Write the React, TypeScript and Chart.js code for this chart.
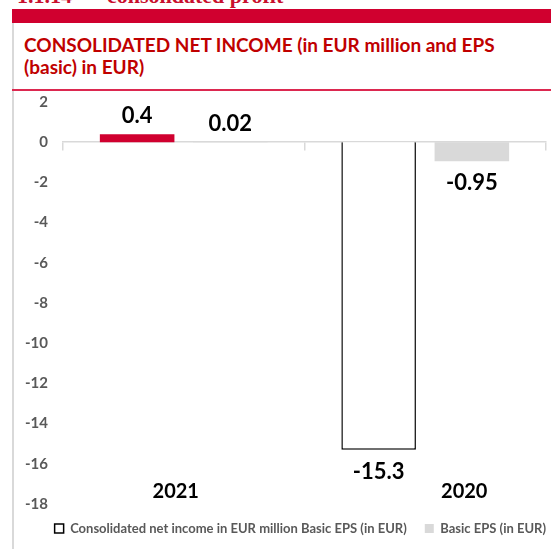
import React, { useEffect, useRef } from "react";
import { Chart, registerables } from "chart.js";

Chart.register(...registerables);

const categories = ["2021", "2020"];
const netIncome = [0.4, -15.3];
const basicEps = [0.02, -0.95];
const seriesNames = [
  "Consolidated net income in EUR million Basic EPS (in EUR)",
  "Basic EPS (in EUR)",
];
const yMin = -18;
const yMax = 2;
const yStep = 2;

const RED = "#D0002F";
const GRAY_BAR = "#D9D9D9";
const AXIS_GRAY = "#D9D9D9";
const TEXT_GRAY = "#595959";
const FONT = "Lato, 'Noto Sans', sans-serif";
const LEGEND_GAP = 18;

const valueLabels = {
  id: "valueLabels",
  afterDatasetsDraw(chart: any) {
    const ctx = chart.ctx;
    ctx.save();
    ctx.font = `bold 22px ${FONT}`;
    ctx.fillStyle = "#000";
    ctx.textAlign = "center";
    ctx.textBaseline = "middle";
    chart.data.datasets.forEach((ds: any, di: number) => {
      const meta = chart.getDatasetMeta(di);
      meta.data.forEach((el: any, i: number) => {
        const v = ds.data[i];
        const y = v >= 0 ? el.y - 18 : el.y + 22;
        ctx.fillText(String(v), el.x, y);
      });
    });
    ctx.restore();
  },
};

const categoryLabels = {
  id: "categoryLabels",
  afterDraw(chart: any) {
    const ctx = chart.ctx;
    const xs = chart.scales.x;
    const area = chart.chartArea;
    const shift = [-8, 39];
    ctx.save();
    ctx.font = `bold 20px ${FONT}`;
    ctx.fillStyle = "#000";
    ctx.textAlign = "center";
    ctx.textBaseline = "middle";
    categories.forEach((c, i) => {
      ctx.fillText(c, xs.getPixelForValue(i) + shift[i], area.bottom - 12);
    });
    ctx.restore();
  },
};

const legendShift = {
  id: "legendShift",
  afterLayout(chart: any) {
    if (chart.legend) {
      chart.legend.left += LEGEND_GAP;
      chart.legend.right += LEGEND_GAP;
    }
  },
};

export default function App() {
  const ref = useRef<HTMLCanvasElement>(null);

  useEffect(() => {
    if (!ref.current) return;
    const chart = new Chart(ref.current, {
      type: "bar",
      data: {
        labels: categories,
        datasets: [
          {
            label: seriesNames[0],
            data: netIncome,
            backgroundColor: [RED, "#FFFFFF"],
            borderColor: [RED, "#000000"],
            borderWidth: [0, 1.5],
          },
          {
            label: seriesNames[1],
            data: basicEps,
            backgroundColor: GRAY_BAR,
            borderWidth: 0,
          },
        ],
      },
      options: {
        responsive: false,
        maintainAspectRatio: false,
        animation: false,
        devicePixelRatio: 1,
        layout: { padding: { top: 23, right: 5, bottom: 6, left: 0 } },
        datasets: {
          bar: { categoryPercentage: 0.772, barPercentage: 0.8 },
        },
        scales: {
          x: {
            position: { y: 0 } as any,
            grid: {
              display: true,
              drawOnChartArea: false,
              drawTicks: true,
              tickLength: 8,
              color: AXIS_GRAY,
              lineWidth: 1.5,
              offset: true,
            },
            border: { display: true, color: AXIS_GRAY, width: 1.5 },
            ticks: { display: false },
            afterFit(scale: any) {
              scale.height = 0;
            },
          },
          y: {
            min: yMin,
            max: yMax,
            grid: { display: false },
            border: { display: false },
            ticks: {
              stepSize: yStep,
              padding: 7,
              color: TEXT_GRAY,
              font: { family: FONT, size: 15, weight: "bold" },
            },
            afterFit(scale: any) {
              scale.width = 50;
            },
          },
        },
        plugins: {
          title: { display: false },
          tooltip: { enabled: false },
          legend: {
            position: "bottom",
            align: "end",
            labels: {
              boxWidth: 9,
              boxHeight: 9,
              padding: LEGEND_GAP,
              color: TEXT_GRAY,
              font: { family: FONT, size: 13, weight: "bold" },
              generateLabels() {
                return [
                  {
                    text: seriesNames[0],
                    fillStyle: "#FFFFFF",
                    strokeStyle: "#000000",
                    lineWidth: 1.5,
                    fontColor: TEXT_GRAY,
                    datasetIndex: 0,
                  },
                  {
                    text: seriesNames[1],
                    fillStyle: GRAY_BAR,
                    strokeStyle: GRAY_BAR,
                    lineWidth: 0,
                    fontColor: TEXT_GRAY,
                    datasetIndex: 1,
                  },
                ] as any;
              },
            },
          },
        },
      },
      plugins: [valueLabels, categoryLabels, legendShift],
    });
    return () => chart.destroy();
  }, []);

  return (
    <div
      style={{
        position: "absolute",
        left: 0,
        top: 0,
        width: 551,
        height: 549,
        overflow: "hidden",
        background: "#fff",
      }}
    >
      <div
        style={{
          position: "absolute",
          left: 17,
          top: -15,
          font: "bold 22px 'Liberation Serif', serif",
          lineHeight: "22px",
          color: "#C8102E",
          whiteSpace: "nowrap",
        }}
      >
        1.1.14
      </div>
      <div
        style={{
          position: "absolute",
          left: 107,
          top: -15,
          font: "bold 22px 'Liberation Serif', serif",
          lineHeight: "22px",
          color: "#C8102E",
          whiteSpace: "nowrap",
        }}
      >
        consolidated profit
      </div>
      <div
        style={{
          position: "absolute",
          left: 12,
          top: 9,
          width: 539,
          height: 14,
          background: RED,
        }}
      />
      <div
        style={{
          position: "absolute",
          left: 12,
          top: 23,
          width: 2,
          height: 526,
          background: AXIS_GRAY,
        }}
      />
      <div
        style={{
          position: "absolute",
          left: 24,
          top: 34,
          width: 525,
          font: `bold 19px ${FONT}`,
          lineHeight: "22px",
          color: "#C00000",
        }}
      >
        CONSOLIDATED NET INCOME (in EUR million and EPS (basic) in EUR)
      </div>
      <div
        style={{
          position: "absolute",
          left: 12,
          top: 89,
          width: 539,
          height: 2,
          background: "#DC2850",
        }}
      />
      <canvas
        ref={ref}
        width={538}
        height={472}
        style={{ position: "absolute", left: 13, top: 79, width: 538, height: 472 }}
      />
    </div>
  );
}
